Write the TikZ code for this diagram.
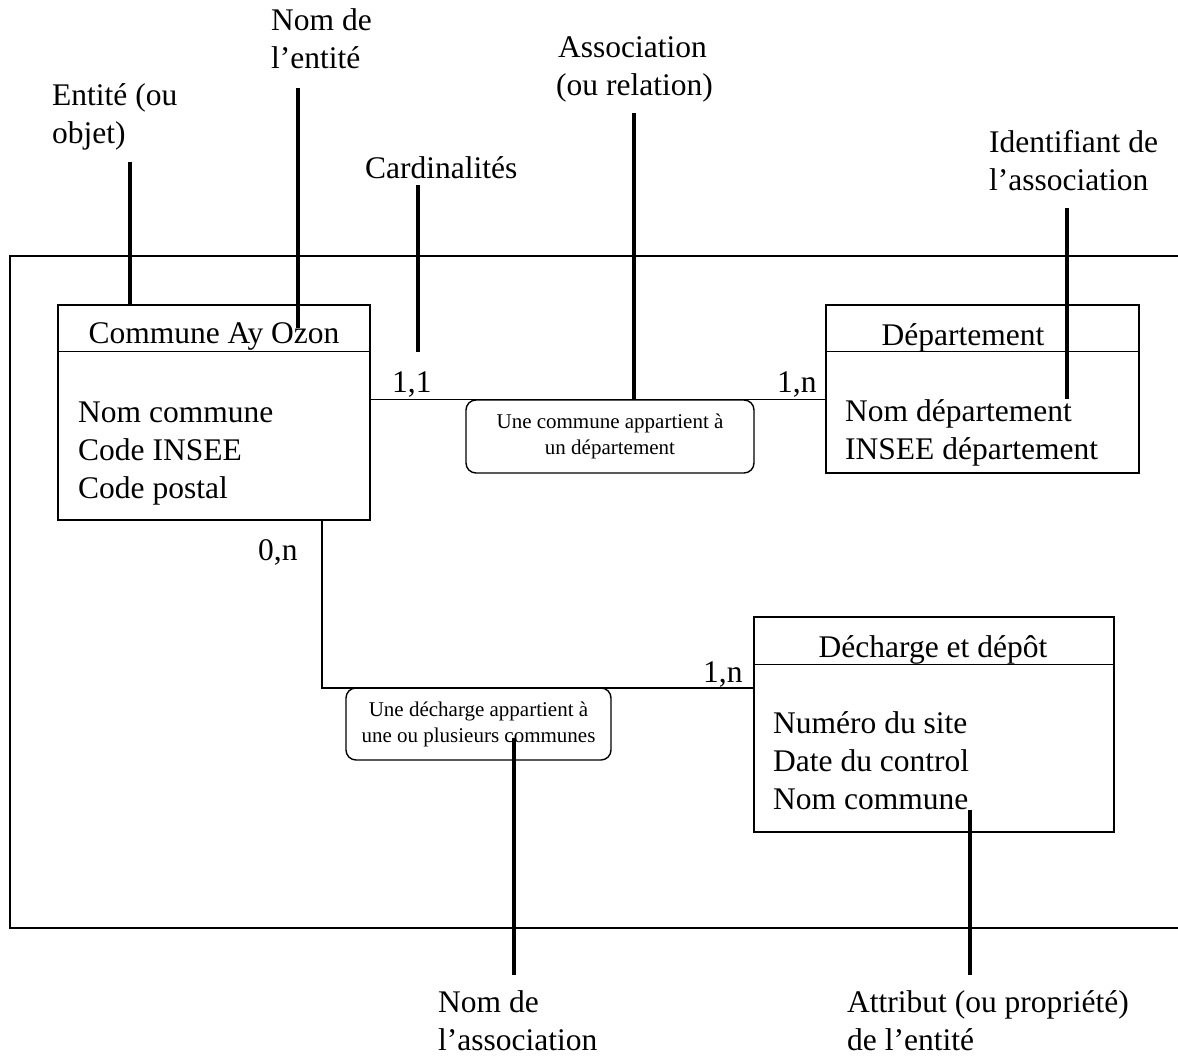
\documentclass[tikz,border=0pt]{standalone}
\usepackage{fontspec}
\setmainfont{Liberation Serif}
\begin{document}
\begin{tikzpicture}[x=1pt,y=-1pt,
  frame/.style={line width=1.4pt},
  entity/.style={draw, line width=1.4pt, rectangle, inner sep=0pt},
  assoc/.style={draw, line width=1.4pt, rounded corners=10pt, align=center, inner sep=0pt,
    font=\fontsize{21}{26}\selectfont},
  big/.style={inner sep=0pt, font=\fontsize{31.5}{38}\selectfont},
  bigl/.style={big, align=left, anchor=base west},
  callout/.style={line width=3.5pt},
  link/.style={line width=1.4pt}]
\useasboundingbox (0,0) rectangle (1178,1061);

% outer frame
\draw[frame] (1178,256) -- (10,256) -- (10,928) -- (1178,928);

% entities
\node[entity, minimum width=312pt, minimum height=215pt] (commune) at (214,412.5) {};
\node[entity, minimum width=313pt, minimum height=168pt] (dept) at (982.5,389) {};
\node[entity, minimum width=360pt, minimum height=215pt] (decharge) at (934,724.5) {};
\draw[link] ([yshift=-47pt]commune.north west) -- ([yshift=-47pt]commune.north east);
\draw[link] ([yshift=-47pt]dept.north west) -- ([yshift=-47pt]dept.north east);
\draw[link] ([yshift=-48pt]decharge.north west) -- ([yshift=-48pt]decharge.north east);

\node[big, anchor=base] (communeT) at (214,343) {Commune Ay Ozon};
\node[big, anchor=base] (deptT) at (963,345) {Département};
\node[big, anchor=base] (dechargeT) at (933,657) {Décharge et dépôt};

% (base anchor of a multi-line node = baseline of its last line)
\node[bigl] (communeA) at (78,498) {Nom commune\\Code INSEE\\Code postal};
\node[bigl] (deptA) at (845,459) {Nom département\\INSEE département};
\node[bigl] (dechargeA) at (773,809) {Numéro du site\\Date du control\\Nom commune};

% associations
\node[assoc, minimum width=288pt, minimum height=73pt] (rel1) at (610,436.5) {Une commune appartient à\\un département};
\node[assoc, minimum width=265pt, minimum height=72pt] (rel2) at (478.5,724) {Une décharge appartient à\\une ou plusieurs communes};

\draw[link] (commune.east |- rel1.north) -- (dept.west |- rel1.north);
\coordinate (bend) at (322,688);
\draw[link] (commune.south -| bend) -- (bend) -- (decharge.west |- bend);

% cardinalities
\node[big, anchor=base west] (c11) at (392,392) {1,1};
\node[big, anchor=base west] (c1n) at (777,392) {1,n};
\node[big, anchor=base west] (c0n) at (258,560) {0,n};
\node[big, anchor=base west] (c1n2) at (703,682) {1,n};

% labels
\node[bigl] (lEnt) at (52,143) {Entité (ou\\objet)};
\node[bigl] (lNom) at (271,68) {Nom de\\l’entité};
\node[bigl] (lCard) at (365,178) {Cardinalités};
\node[bigl] (lAsso) at (556,95) {\hspace*{2pt}Association\\(ou relation)};
\node[bigl] (lId) at (989,190) {Identifiant de\\l’association};
\node[bigl] (lNomA) at (438,1050) {Nom de\\l’association};
\node[bigl] (lAttr) at (847,1050) {Attribut (ou propriété)\\de l’entité};

% callout lines
\coordinate (eTop) at (130,162);
\draw[callout] (eTop) -- (eTop |- commune.north);
\coordinate (nTop) at (298,88);
\coordinate (nEnd) at (298,328);
\draw[callout] (nTop) -- (nEnd);
\coordinate (cTop) at (418,185);
\coordinate (cEnd) at (418,352);
\draw[callout] (cTop) -- (cEnd);
\coordinate (aTop) at (634,113);
\draw[callout] (aTop) -- (aTop |- rel1.north);
\coordinate (iTop) at (1067,208);
\coordinate (iEnd) at (1067,399);
\draw[callout] (iTop) -- (iEnd);
\coordinate (naTop) at (514,738);
\coordinate (naEnd) at (514,975);
\draw[callout] (naTop) -- (naEnd);
\coordinate (atTop) at (970,810);
\coordinate (atEnd) at (970,975);
\draw[callout] (atTop) -- (atEnd);
\end{tikzpicture}
\end{document}
